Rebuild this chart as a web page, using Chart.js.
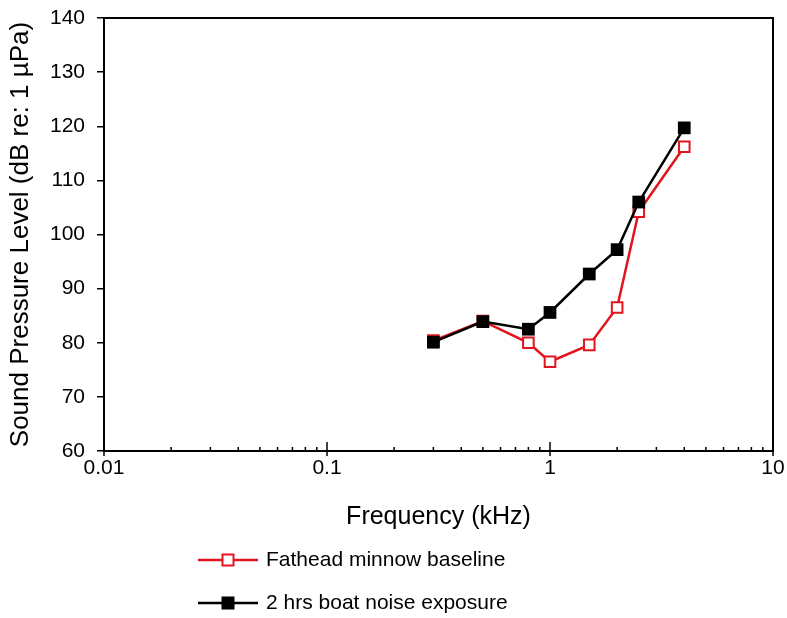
<!DOCTYPE html>
<html>
<head>
<meta charset="utf-8">
<script src="https://cdn.jsdelivr.net/npm/chart.js@4.4.0/dist/chart.umd.min.js"></script>
<style>
html,body{margin:0;padding:0;background:#fff;}
#wrap{width:787px;height:618px;position:relative;}
</style>
</head>
<body>
<div id="wrap"><canvas id="c" width="787" height="618"></canvas></div>
<script>
// Data
const frequencies = [0.3, 0.5, 0.8, 1, 1.5, 2, 2.5, 4];           // kHz
const baselineSPL = [80.4, 84.0, 80.0, 76.5, 79.6, 86.5, 104.2, 116.2];
const boatNoiseSPL = [80.1, 83.9, 82.5, 85.6, 92.7, 97.2, 106.0, 119.7];
const seriesNames = ["Fathead minnow baseline", "2 hrs boat noise exposure"];
const xDecadeLabels = [0.01, 0.1, 1, 10];
const yTickValues = [60, 70, 80, 90, 100, 110, 120, 130, 140];

const RED = '#e3141e';
const FONT = '"Liberation Sans", Arial, Helvetica, sans-serif';

function pts(xs, ys){ return xs.map((x,i)=>({x:x, y:ys[i]})); }

const framePlugin = {
  id: 'frame',
  afterDraw(chart){
    const ctx = chart.ctx, a = chart.chartArea;
    const xs = chart.scales.x;
    ctx.save();
    ctx.strokeStyle = '#000';
    ctx.lineWidth = 2;
    ctx.strokeRect(a.left, a.top, a.right - a.left, a.bottom - a.top);
    // x ticks: major decade ticks cross the axis, minor ticks point inward
    ctx.lineWidth = 1.5;
    for (let d = -2; d <= 0; d++) {
      for (let m = 1; m <= 9; m++) {
        const v = m * Math.pow(10, d);
        const px = xs.getPixelForValue(v);
        ctx.beginPath();
        if (m === 1) { ctx.moveTo(px, a.bottom - 9); ctx.lineTo(px, a.bottom + 5); }
        else { ctx.moveTo(px, a.bottom - 4); ctx.lineTo(px, a.bottom); }
        ctx.stroke();
      }
    }
    const p10 = xs.getPixelForValue(10);
    ctx.beginPath(); ctx.moveTo(p10, a.bottom - 9); ctx.lineTo(p10, a.bottom + 5); ctx.stroke();

    // legend
    const ds = chart.data.datasets;
    const legendRows = [{ds: ds[0], y: 560}, {ds: ds[1], y: 603}];
    const x0 = a.left + 94, x1 = a.left + 154, xm = (x0 + x1) / 2;
    legendRows.forEach(r => {
      ctx.strokeStyle = r.ds.borderColor;
      ctx.lineWidth = 2.5;
      ctx.beginPath(); ctx.moveTo(x0, r.y); ctx.lineTo(x1, r.y); ctx.stroke();
      const s = r.ds.legendBox;
      if (r.ds.pointBackgroundColor === '#fff') {
        ctx.fillStyle = '#fff';
        ctx.fillRect(xm - s/2, r.y - s/2, s, s);
        ctx.lineWidth = 2;
        ctx.strokeStyle = r.ds.pointBorderColor;
        ctx.strokeRect(xm - s/2, r.y - s/2, s, s);
      } else {
        ctx.fillStyle = r.ds.pointBackgroundColor;
        ctx.fillRect(xm - s/2, r.y - s/2, s, s);
      }
      ctx.fillStyle = '#000';
      ctx.font = '21px ' + FONT;
      ctx.textBaseline = 'middle';
      ctx.textAlign = 'left';
      ctx.fillText(r.ds.label, x1 + 8, r.y);
    });
    ctx.restore();
  }
};

new Chart(document.getElementById('c'), {
  type: 'line',
  data: {
    datasets: [
      {
        label: seriesNames[0],
        data: pts(frequencies, baselineSPL),
        borderColor: RED,
        borderWidth: 2.5,
        pointStyle: 'rect',
        pointRadius: 7.5,
        pointBorderWidth: 2,
        pointBorderColor: RED,
        pointBackgroundColor: '#fff',
        legendBox: 11,
        order: 1,
        tension: 0
      },
      {
        label: seriesNames[1],
        data: pts(frequencies, boatNoiseSPL),
        borderColor: '#000',
        borderWidth: 2.5,
        pointStyle: 'rect',
        pointRadius: 9,
        pointBorderWidth: 0,
        pointBorderColor: '#000',
        pointBackgroundColor: '#000',
        legendBox: 13,
        order: 0,
        tension: 0
      }
    ]
  },
  options: {
    responsive: false,
    animation: false,
    layout: { padding: { left: 0, top: 18, right: 14, bottom: 83 } },
    plugins: { legend: { display: false }, tooltip: { enabled: false } },
    scales: {
      x: {
        type: 'logarithmic',
        min: xDecadeLabels[0],
        max: xDecadeLabels[xDecadeLabels.length - 1],
        afterBuildTicks(scale){ scale.ticks = xDecadeLabels.map(v => ({value: v})); },
        ticks: {
          autoSkip: false, maxRotation: 0,
          color: '#000',
          font: { family: FONT, size: 21 },
          padding: 5,
          callback: (v) => String(v)
        },
        grid: { display: false, drawTicks: false },
        border: { display: false },
        title: {
          display: true, text: 'Frequency (kHz)', color: '#000',
          font: { family: FONT, size: 25 }, padding: { top: 4, bottom: 3 }
        },
        afterFit(scale){ scale.height = 84; scale.paddingLeft = 0; scale.paddingRight = 0; }
      },
      y: {
        min: yTickValues[0],
        max: yTickValues[yTickValues.length - 1],
        afterBuildTicks(scale){ scale.ticks = yTickValues.map(v => ({value: v})); },
        ticks: {
          color: '#000',
          font: { family: FONT, size: 21 },
          padding: 12
        },
        grid: { drawOnChartArea: false, drawTicks: true, tickLength: 7, color: '#000', lineWidth: 1.5 },
        border: { display: false },
        title: {
          display: true, text: 'Sound Pressure Level (dB re: 1 µPa)', color: '#000',
          font: { family: FONT, size: 26 }, padding: { top: 5, bottom: 2 }
        },
        afterFit(scale){ scale.width = 104; scale.paddingTop = 0; scale.paddingBottom = 0; }
      }
    }
  },
  plugins: [framePlugin]
});
</script>
</body>
</html>
